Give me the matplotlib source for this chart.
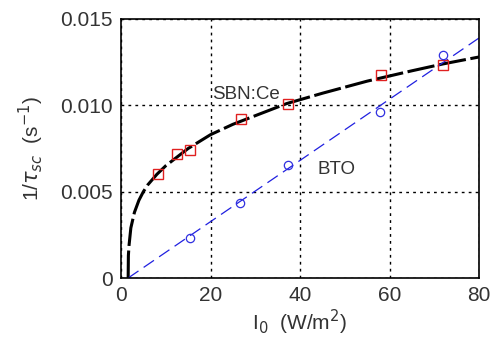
import matplotlib.pyplot as plt

plt.rcParams['font.family'] = ['Liberation Sans', 'DejaVu Sans']

# measured points
sbn_x = [8.3, 12.5, 15.4, 26.8, 37.3, 58.1, 72.0]
sbn_y = [0.0060, 0.00718, 0.00740, 0.0092, 0.0101, 0.01176, 0.01234]
bto_x = [15.4, 26.6, 37.3, 57.9, 72.0]
bto_y = [0.00232, 0.00434, 0.00654, 0.0096, 0.0129]

# fitted curves
sbn_fit_x = [1.6, 1.65, 1.8, 2.2, 3, 4, 5, 6, 8, 10, 12, 15, 20, 25, 30, 37, 45, 55, 65, 72, 80]
sbn_fit_y = [0, 0.0013, 0.0019, 0.0029, 0.0038, 0.0045, 0.0050, 0.0054, 0.0060, 0.0065,
             0.0069, 0.0075, 0.0083, 0.0089, 0.0094, 0.0101, 0.0107, 0.0114, 0.0120, 0.0124, 0.0128]
bto_fit_x = [1.6, 80]
bto_fit_y = [0, 0.0139]

fig = plt.figure(figsize=(4.99, 3.39), dpi=100)
ax = fig.add_axes([121/499, 1 - 278/339, 358/499, 259/339])

ax.plot(sbn_fit_x, sbn_fit_y, color='k', lw=2.2, dashes=[9, 1.5])
ax.plot(bto_fit_x, bto_fit_y, color='#2020e0', lw=0.9, dashes=[10, 5])
ax.plot(sbn_x, sbn_y, 's', ms=7, mfc='none', mec='#e02020', mew=1.0)
ax.plot(bto_x, bto_y, 'o', ms=6, mfc='none', mec='#3030e0', mew=0.9)

ax.text(20.3, 0.0106, 'SBN:Ce', fontsize=13.5, color='#333333', va='center')
ax.text(44.0, 0.0063, 'BTO', fontsize=13.5, color='#333333', va='center')

ax.set_xlim(0, 80)
ax.set_ylim(0, 0.015)
ax.set_xticks([0, 20, 40, 60, 80])
ax.set_yticks([0, 0.005, 0.010, 0.015])
ax.set_yticklabels(['0', '0.005', '0.010', '0.015'])
ax.tick_params(labelsize=15, length=0, pad=6, colors='#333333')
ax.grid(True, color='k', linestyle=(0, (2, 3)), lw=1.0)
for s in ax.spines.values():
    s.set_linewidth(1.2)

ax.set_xlabel(r'I$_0$  (W/m$^2$)', fontsize=15, labelpad=2, color='#333333')
ax.set_ylabel(r'1/$\tau_{sc}$  (s$^{-1}$)', fontsize=15, labelpad=10, color='#333333')

fig.savefig('out.png', dpi=100)
